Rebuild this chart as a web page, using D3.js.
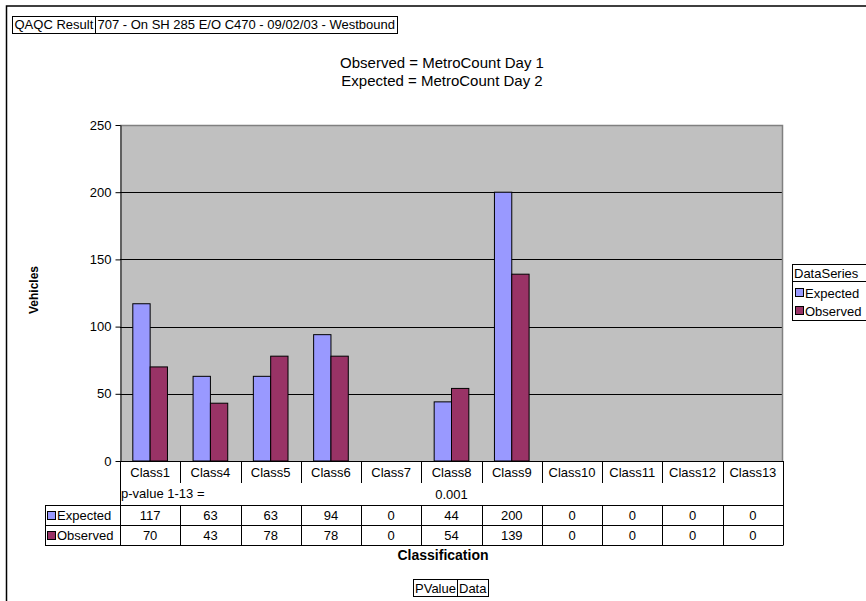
<!DOCTYPE html>
<html><head><meta charset="utf-8">
<script src="https://cdn.jsdelivr.net/npm/d3@7"></script>
<style>body{margin:0;background:#fff}svg{display:block;font-family:"Liberation Sans",Arial,sans-serif}</style>
</head><body><svg id="c" width="866" height="601"></svg>
<script>
const categories = ["Class1","Class4","Class5","Class6","Class7","Class8","Class9","Class10","Class11","Class12","Class13"];
const expected = [117,63,63,94,0,44,200,0,0,0,0];
const observed = [70,43,78,78,0,54,139,0,0,0,0];
const seriesNames = ["Expected","Observed"];
const seriesColors = ["#9999FF","#993366"];
const yTicks = [0,50,100,150,200,250];
const pValueLabel = "p-value 1-13 =";
const pValue = "0.001";

const FONT = "'Liberation Sans',Arial,sans-serif";
const FS = 13;
const svg = d3.select("#c");
const L=120, R=783, T=125, B=461;
// outer border
svg.append("rect").attr("x",6.5).attr("y",6).attr("width",900).attr("height",700).attr("fill","none").attr("stroke","#000").attr("stroke-width",1.5);

// QAQC header box
const hb = svg.append("g");
const t1 = hb.append("text").attr("x",14.5).attr("y",29).attr("font-size",FS).text("QAQC Result");
const w1 = t1.node().getComputedTextLength();
const divX = Math.round(14.5+w1+1.5)+0.5;
const t2 = hb.append("text").attr("x",divX+2).attr("y",29).attr("font-size",FS).text("707 - On SH 285 E/O C470 - 09/02/03 - Westbound");
const w2 = t2.node().getComputedTextLength();
hb.insert("rect","text").attr("x",12.5).attr("y",16.5).attr("width",Math.round(divX+2+w2+2)-12).attr("height",17).attr("fill","#fff").attr("stroke","#000");
hb.append("line").attr("x1",divX).attr("x2",divX).attr("y1",16.5).attr("y2",33.5).attr("stroke","#000");

// title
svg.append("text").attr("x",442).attr("y",68).attr("text-anchor","middle").attr("font-size",15).text("Observed = MetroCount Day 1");
svg.append("text").attr("x",442).attr("y",86).attr("text-anchor","middle").attr("font-size",15).text("Expected = MetroCount Day 2");

const x = d3.scaleBand().domain(categories).range([L,R]).padding(0);
const y = d3.scaleLinear().domain([0,250]).range([B,T]);

svg.append("rect").attr("x",L).attr("y",T).attr("width",R-L).attr("height",B-T).attr("fill","#C0C0C0");
// gridlines
svg.append("g").selectAll("line").data(yTicks.filter(d=>d>0&&d<250)).join("line")
  .attr("x1",L).attr("x2",R).attr("y1",d=>Math.round(y(d))+0.5).attr("y2",d=>Math.round(y(d))+0.5).attr("stroke","#000");
// plot border top/right gray
svg.append("path").attr("d",`M${L},${T+0.5}H${R-0.5}V${B}`).attr("fill","none").attr("stroke","#808080").attr("stroke-width",1.5);

// bars
const bw = x.bandwidth()*0.2875;
const off = (x.bandwidth()-2*bw)/2;
const data = categories.map((c,i)=>({c, vals:[expected[i],observed[i]]}));
const g = svg.append("g");
data.forEach(d=>{
  d.vals.forEach((v,j)=>{
    if(v<=0) return;
    g.append("rect").attr("x",x(d.c)+off+j*bw).attr("y",y(v)).attr("width",bw).attr("height",B-y(v))
      .attr("fill",seriesColors[j]).attr("stroke","#000").attr("stroke-width",1);
  });
});

// y axis
const ya = svg.append("g").attr("transform",`translate(${L+0.5},0)`)
  .call(d3.axisLeft(y).tickValues(yTicks).tickSize(5).tickPadding(4).tickSizeOuter(0));
ya.select(".domain").attr("stroke","#000");
ya.selectAll("text").attr("font-size",FS).attr("font-family",FONT).attr("fill","#000");
ya.selectAll("line").attr("stroke","#000");
svg.append("line").attr("x1",L).attr("x2",R).attr("y1",B+0.5).attr("y2",B+0.5).attr("stroke","#000");

// y label
svg.append("text").attr("transform","translate(38,290) rotate(-90)").attr("text-anchor","middle").attr("font-size",12).attr("font-weight","bold").text("Vehicles");

// data table
const tb = svg.append("g");
const rowTop = 505, rowH = 20, tL = 45;
categories.forEach((c,i)=>{
  tb.append("line").attr("x1",Math.round(x(c))+0.5).attr("x2",Math.round(x(c))+0.5).attr("y1",B).attr("y2",i===0?rowTop+2*rowH:B+22).attr("stroke","#000");
  tb.append("text").attr("x",x(c)+x.bandwidth()/2).attr("y",B+16).attr("text-anchor","middle").attr("font-size",FS).text(c);
});
tb.append("line").attr("x1",R+0.5).attr("x2",R+0.5).attr("y1",B).attr("y2",rowTop+2*rowH).attr("stroke","#000");
tb.append("text").attr("x",L+1).attr("y",B+37).attr("font-size",FS).text(pValueLabel);
tb.append("text").attr("x",x("Class8")+x.bandwidth()/2).attr("y",B+38).attr("text-anchor","middle").attr("font-size",FS).text(pValue);
[0,1,2].forEach(k=>{
  tb.append("line").attr("x1",tL).attr("x2",R+0.5).attr("y1",rowTop+k*rowH+0.5).attr("y2",rowTop+k*rowH+0.5).attr("stroke","#000");
});
tb.append("line").attr("x1",tL+0.5).attr("x2",tL+0.5).attr("y1",rowTop).attr("y2",rowTop+2*rowH).attr("stroke","#000");
[expected,observed].forEach((arr,k)=>{
  const ry = rowTop+k*rowH;
  tb.append("rect").attr("x",tL+2.5).attr("y",ry+6.5).attr("width",8).attr("height",8).attr("fill",seriesColors[k]).attr("stroke","#000");
  tb.append("text").attr("x",tL+12).attr("y",ry+15).attr("font-size",FS).text(seriesNames[k]);
  categories.forEach((c,i)=>{
    tb.append("line").attr("x1",Math.round(x(c))+0.5).attr("x2",Math.round(x(c))+0.5).attr("y1",ry).attr("y2",ry+rowH).attr("stroke","#000");
    tb.append("text").attr("x",x(c)+x.bandwidth()/2).attr("y",ry+15).attr("text-anchor","middle").attr("font-size",FS).text(arr[i]);
  });
});

svg.append("text").attr("x",443).attr("y",560).attr("text-anchor","middle").attr("font-size",14).attr("font-weight","bold").text("Classification");

// legend
const lg = svg.append("g");
lg.append("rect").attr("x",792.5).attr("y",264.5).attr("width",80).attr("height",56).attr("fill","#fff").attr("stroke","#000");
lg.append("line").attr("x1",792.5).attr("x2",870).attr("y1",281.5).attr("y2",281.5).attr("stroke","#000");
lg.append("text").attr("x",794).attr("y",278).attr("font-size",FS).text("DataSeries");
seriesNames.forEach((s,k)=>{
  const ly = 286 + k*18;
  lg.append("rect").attr("x",795.5).attr("y",ly+2.5).attr("width",8).attr("height",8).attr("fill",seriesColors[k]).attr("stroke","#000");
  lg.append("text").attr("x",805).attr("y",ly+11.5).attr("font-size",FS).text(s);
});

// PValue Data box
const pb = svg.append("g");
const p1 = pb.append("text").attr("x",415).attr("y",592.5).attr("font-size",FS).text("PValue");
const pw1 = p1.node().getComputedTextLength();
const pdiv = Math.round(415+pw1+1)+0.5;
const p2 = pb.append("text").attr("x",pdiv+1.5).attr("y",592.5).attr("font-size",FS).text("Data");
const pw2 = p2.node().getComputedTextLength();
pb.insert("rect","text").attr("x",413.5).attr("y",579.5).attr("width",Math.round(pdiv+1.5+pw2+1.5)-413).attr("height",17).attr("fill","#fff").attr("stroke","#000");
pb.append("line").attr("x1",pdiv).attr("x2",pdiv).attr("y1",579.5).attr("y2",596.5).attr("stroke","#000");
</script></body></html>
